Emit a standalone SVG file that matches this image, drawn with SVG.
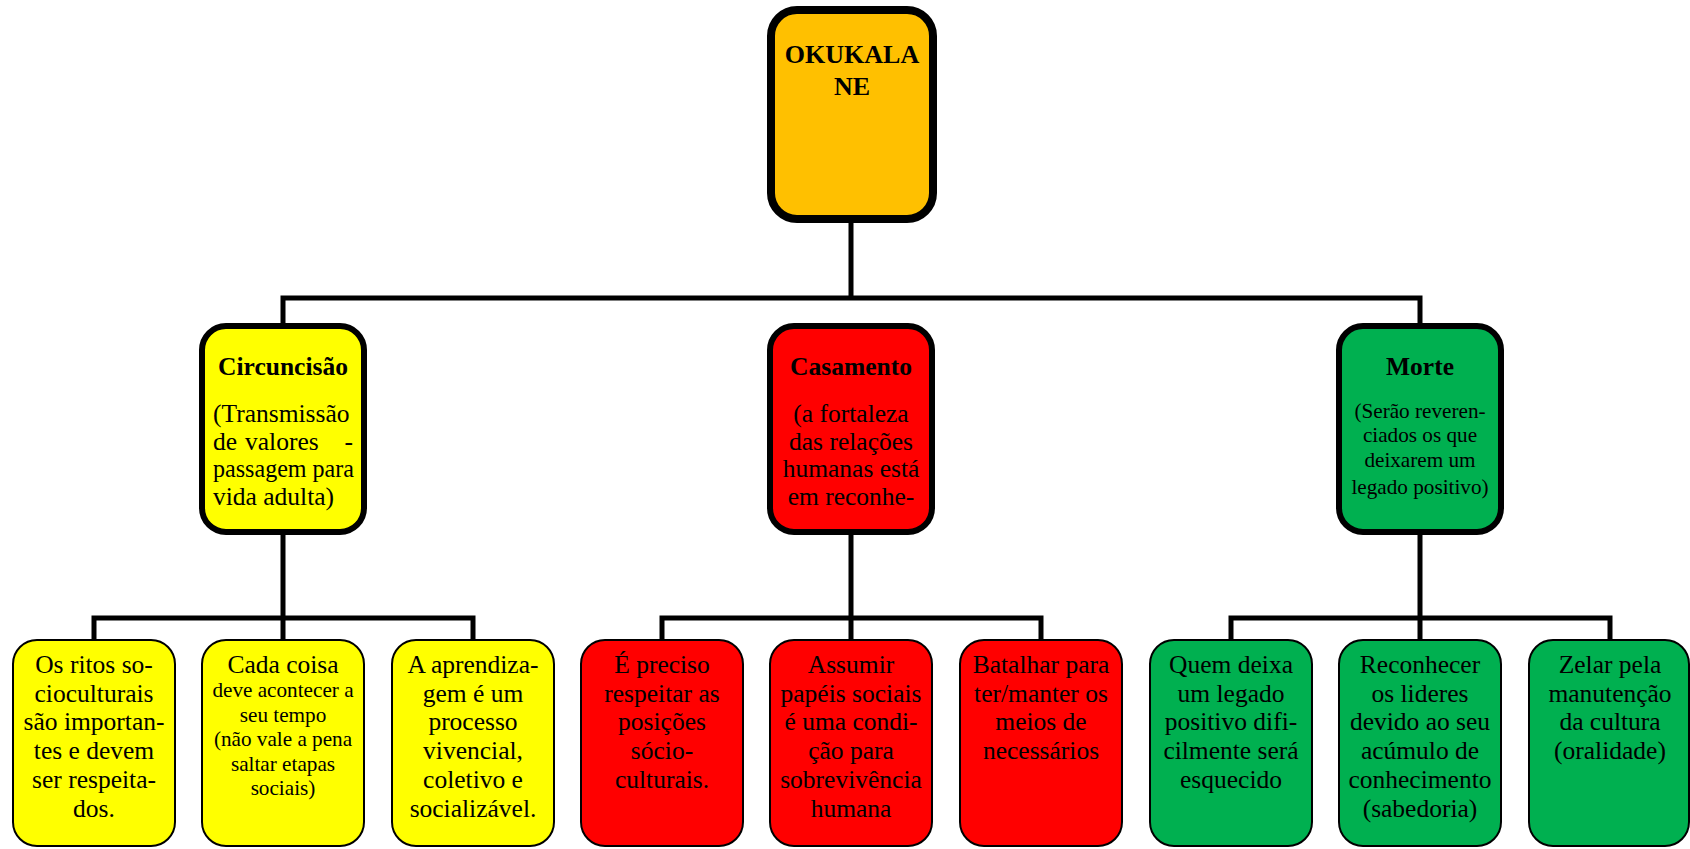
<svg xmlns="http://www.w3.org/2000/svg" width="1690" height="849" viewBox="0 0 1690 849">
<style>
.t{font-family:"Liberation Serif","Times New Roman",serif;fill:#000;text-anchor:middle}
.b{font-weight:bold}
.s24{font-size:25.5px}
.s21{font-size:21.2px}
.s20{font-size:21.2px}
.c{fill:none;stroke:#000;stroke-width:5}
.l1{stroke:#000;stroke-width:8}
.l2{stroke:#000;stroke-width:6}
.l3{stroke:#000;stroke-width:2}
.or{fill:#FFC000}.ye{fill:#FFFF00}.re{fill:#FF0000}.gr{fill:#00B050}
</style>
<rect width="1690" height="849" fill="#fff"/>
<g id="connectors">
<path class="c" d="M851 221V298M283 323V298H1420V323"/>
<path class="c" d="M283 535V618M94 640V618H473V640M283 618V640"/>
<path class="c" d="M851 535V618M662 640V618H1041V640M851 618V640"/>
<path class="c" d="M1420 535V618M1231 640V618H1610V640M1420 618V640"/>
</g>
<g id="okukalane">
<rect class="or l1" x="771" y="10" width="162" height="209" rx="26"/>
<text class="t b" font-size="26" x="852" y="63">OKUKALA</text>
<text class="t b" font-size="26" x="852" y="95">NE</text>
</g>
<g id="circuncisao">
<rect class="ye l2" x="202" y="326" width="162" height="206" rx="24"/>
<text class="t b s24" x="283" y="375">Circuncisão</text>
<text class="t s24" style="text-anchor:start" x="213" y="422">(Transmissão</text>
<text class="t s24" style="text-anchor:start" x="213" y="449.5">de</text>
<text class="t s24" style="text-anchor:start" x="245" y="449.5">valores</text>
<text class="t s24" style="text-anchor:end" x="353" y="449.5">-</text>
<text class="t s24" style="text-anchor:start" x="213" y="477" textLength="141" lengthAdjust="spacingAndGlyphs">passagem para</text>
<text class="t s24" style="text-anchor:start" x="213" y="504.5">vida adulta)</text>
</g>
<g id="casamento">
<rect class="re l2" x="770" y="326" width="162" height="206" rx="24"/>
<text class="t b s24" x="851" y="375">Casamento</text>
<text class="t s24" x="851" y="422">(a fortaleza</text>
<text class="t s24" x="851" y="449.5">das relações</text>
<text class="t s24" x="851" y="477">humanas está</text>
<text class="t s24" x="851" y="504.5">em reconhe-</text>
</g>
<g id="morte">
<rect class="gr l2" x="1339" y="326" width="162" height="206" rx="24"/>
<text class="t b s24" x="1420" y="375">Morte</text>
<text class="t s21" x="1420" y="418">(Serão reveren-</text>
<text class="t s21" x="1420" y="442">ciados os que</text>
<text class="t s21" x="1420" y="467">deixarem um</text>
<text class="t s21" x="1420" y="494">legado positivo)</text>
</g>
<g id="ritos">
<rect class="ye l3" x="13" y="640" width="162" height="206" rx="24"/>
<text class="t s24" x="94" y="673">Os ritos so-</text>
<text class="t s24" x="94" y="701.7">cioculturais</text>
<text class="t s24" x="94" y="730.4">são importan-</text>
<text class="t s24" x="94" y="759.1">tes e devem</text>
<text class="t s24" x="94" y="787.8">ser respeita-</text>
<text class="t s24" x="94" y="816.5">dos.</text>
</g>
<g id="cada-coisa">
<rect class="ye l3" x="202" y="640" width="162" height="206" rx="24"/>
<text class="t s24" x="283" y="673">Cada coisa</text>
<text class="t s20" x="283" y="697">deve acontecer a</text>
<text class="t s20" x="283" y="721.5">seu tempo</text>
<text class="t s20" x="283" y="746">(não vale a pena</text>
<text class="t s20" x="283" y="770.5">saltar etapas</text>
<text class="t s20" x="283" y="795">sociais)</text>
</g>
<g id="aprendizagem">
<rect class="ye l3" x="392" y="640" width="162" height="206" rx="24"/>
<text class="t s24" x="473" y="673">A aprendiza-</text>
<text class="t s24" x="473" y="701.7">gem é um</text>
<text class="t s24" x="473" y="730.4">processo</text>
<text class="t s24" x="473" y="759.1">vivencial,</text>
<text class="t s24" x="473" y="787.8">coletivo e</text>
<text class="t s24" x="473" y="816.5">socializável.</text>
</g>
<g id="preciso">
<rect class="re l3" x="581" y="640" width="162" height="206" rx="24"/>
<text class="t s24" x="662" y="673">É preciso</text>
<text class="t s24" x="662" y="701.7">respeitar as</text>
<text class="t s24" x="662" y="730.4">posições</text>
<text class="t s24" x="662" y="759.1">sócio-</text>
<text class="t s24" x="662" y="787.8">culturais.</text>
</g>
<g id="assumir">
<rect class="re l3" x="770" y="640" width="162" height="206" rx="24"/>
<text class="t s24" x="851" y="673">Assumir</text>
<text class="t s24" x="851" y="701.7">papéis sociais</text>
<text class="t s24" x="851" y="730.4">é uma condi-</text>
<text class="t s24" x="851" y="759.1">ção para</text>
<text class="t s24" x="851" y="787.8">sobrevivência</text>
<text class="t s24" x="851" y="816.5">humana</text>
</g>
<g id="batalhar">
<rect class="re l3" x="960" y="640" width="162" height="206" rx="24"/>
<text class="t s24" x="1041" y="673">Batalhar para</text>
<text class="t s24" x="1041" y="701.7">ter/manter os</text>
<text class="t s24" x="1041" y="730.4">meios de</text>
<text class="t s24" x="1041" y="759.1">necessários</text>
</g>
<g id="quem-deixa">
<rect class="gr l3" x="1150" y="640" width="162" height="206" rx="24"/>
<text class="t s24" x="1231" y="673">Quem deixa</text>
<text class="t s24" x="1231" y="701.7">um legado</text>
<text class="t s24" x="1231" y="730.4">positivo difi-</text>
<text class="t s24" x="1231" y="759.1">cilmente será</text>
<text class="t s24" x="1231" y="787.8">esquecido</text>
</g>
<g id="reconhecer">
<rect class="gr l3" x="1339" y="640" width="162" height="206" rx="24"/>
<text class="t s24" x="1420" y="673">Reconhecer</text>
<text class="t s24" x="1420" y="701.7">os lideres</text>
<text class="t s24" x="1420" y="730.4">devido ao seu</text>
<text class="t s24" x="1420" y="759.1">acúmulo de</text>
<text class="t s24" x="1420" y="787.8">conhecimento</text>
<text class="t s24" x="1420" y="816.5">(sabedoria)</text>
</g>
<g id="zelar">
<rect class="gr l3" x="1529" y="640" width="160" height="206" rx="24"/>
<text class="t s24" x="1610" y="673">Zelar pela</text>
<text class="t s24" x="1610" y="701.7">manutenção</text>
<text class="t s24" x="1610" y="730.4">da cultura</text>
<text class="t s24" x="1610" y="759.1">(oralidade)</text>
</g>
</svg>
